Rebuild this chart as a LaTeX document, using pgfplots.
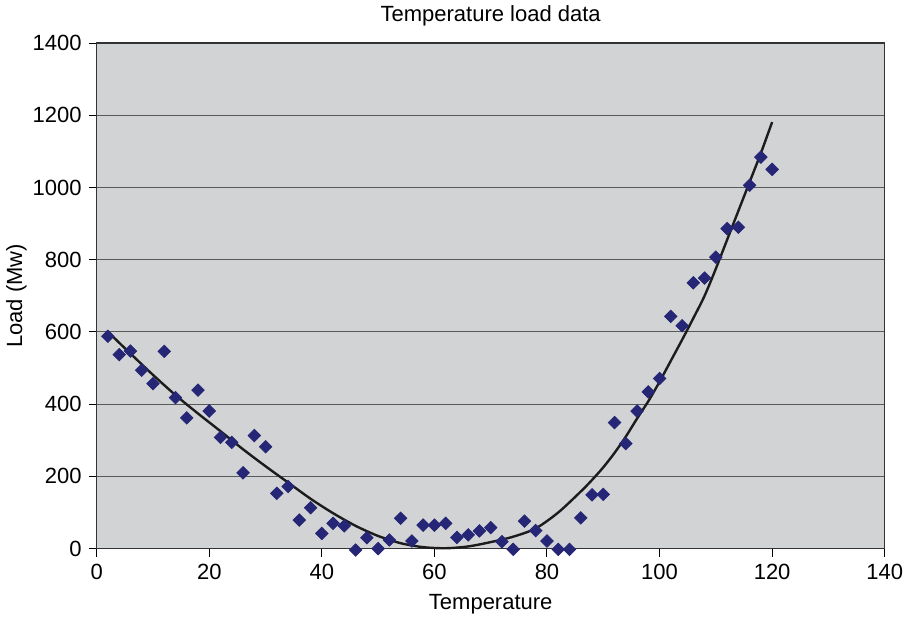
\documentclass[border=0pt]{standalone}
\usepackage{fontspec}
\setmainfont{Liberation Sans}
\usepackage{pgfplots}
\pgfplotsset{compat=1.18}
\definecolor{bg}{RGB}{210,211,213}
\definecolor{navy}{RGB}{38,38,118}
\definecolor{curve}{RGB}{28,28,28}
\pgfplotstableread{
x y
2 588
4 537
6 547
8 494
10 457
12 546
14 418
16 362
18 439
20 381
22 308
24 294
26 210
28 313
30 282
32 153
34 172
36 79
38 113
40 42
42 70
44 63
46 -4
48 30
50 0
52 24
54 84
56 21
58 65
60 65
62 70
64 31
66 38
68 49
70 58
72 19
74 -2
76 76
78 50
80 21
82 -2
84 -2
86 85
88 149
90 150
92 349
94 291
96 381
98 434
100 471
102 643
104 617
106 736
108 749
110 807
112 886
114 890
116 1006
118 1084
120 1050
}\loaddata
\pgfplotstableread{
x y
2 600
6 540
10 481
14 425
18 374
22 325
26 275
30 228
34 183
38 138
42 98
46 63
50 35
54 15
58 4
62 1
66 6
70 18
74 33
78 56
82 100
86 158
88 190
90 225
92 265
94 310
96 360
98 408
100 462
102 520
104 578
106 638
108 700
110 775
112 855
114 935
116 1015
118 1095
120 1181
}\trenddata
\begin{document}
\begin{tikzpicture}
\useasboundingbox (-48.35pt,-34.2pt) rectangle (405.15pt,274.3pt);
\begin{axis}[
  scale only axis, width=394pt, height=252.8pt,
  at={(0,0)}, anchor=south west,
  xmin=0, xmax=140, ymin=0, ymax=1400,
  xtick={0,20,...,140}, ytick={0,200,...,1400},
  xtick pos=bottom, ytick pos=left,
  tick align=outside, major tick length=4pt,
  tick style={black, line width=0.5pt},
  axis line style={black!80, line width=0.6pt},
  ymajorgrids, grid style={black!65, line width=0.5pt},
  axis background/.style={fill=bg},
  clip=false,
  /pgf/number format/assume math mode=true,
  /pgf/number format/set thousands separator={},
  scaled ticks=false,
  tick label style={font=\fontsize{11}{13}\selectfont},
  every axis title shift=0pt,
  title={Temperature load data},
  title style={font=\fontsize{11}{13}\selectfont, at={(axis description cs:0.5,1.0435)}, anchor=base, yshift=0pt},
  xlabel={Temperature},
  xlabel style={font=\fontsize{11}{13}\selectfont, at={(axis description cs:0.5,-0.1214)}, anchor=base},
  ylabel={Load (Mw)},
  ylabel style={font=\fontsize{11}{13}\selectfont, at={(axis description cs:-0.0947,0.5)}, anchor=base},
]
\addplot[only marks, mark=square*, mark size=2.2pt, mark options={rotate=45, fill=navy, draw=navy}] table[x=x,y=y] {\loaddata};
\addplot[curve, line width=1.2pt, smooth, no marks] table[x=x,y=y] {\trenddata};
\end{axis}
\end{tikzpicture}
\end{document}
